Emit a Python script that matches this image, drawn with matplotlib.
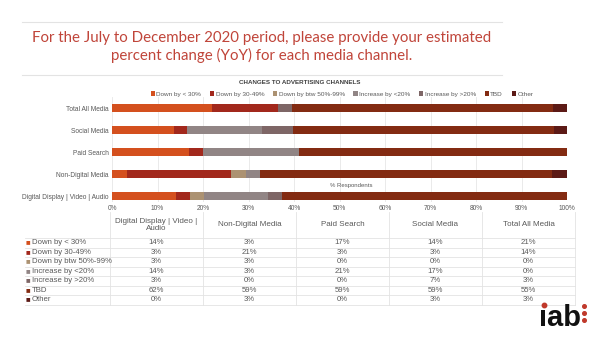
import matplotlib.pyplot as plt
import numpy as np
from matplotlib.lines import Line2D

channels = ['Digital Display | Video | Audio', 'Non-Digital Media', 'Paid Search',
            'Social Media', 'Total All Media']
headers = ['Digital Display | Video |\nAudio', 'Non-Digital Media', 'Paid Search',
           'Social Media', 'Total All Media']
categories = ['Down by < 30%', 'Down by 30-49%', 'Down by btw 50%-99%',
              'Increase by <20%', 'Increase by >20%', 'TBD', 'Other']

down_lt30 = [14, 3, 17, 14, 21]
down_30_49 = [3, 21, 3, 3, 14]
down_50_99 = [3, 3, 0, 0, 0]
inc_lt20 = [14, 3, 21, 17, 0]
inc_gt20 = [3, 0, 0, 7, 3]
tbd = [62, 59, 59, 59, 55]
other = [0, 3, 0, 3, 3]

series = [down_lt30, down_30_49, down_50_99, inc_lt20, inc_gt20, tbd, other]
colors = ['#D4501E', '#A2281C', '#AC9272', '#918585', '#7E6666', '#832B12', '#5C1A16']

W, H = 600, 338
fig = plt.figure(figsize=(6, 3.38), dpi=100)
plt.rcParams['font.family'] = ['Liberation Sans', 'DejaVu Sans']


def fx(px):
    return px / W


def fy(py):
    return 1 - py / H


# title block
for yy in (22, 75):
    fig.add_artist(Line2D([fx(22), fx(502)], [fy(yy), fy(yy)], color='#E3E3E3', lw=0.8))
fig.text(fx(262), fy(47), 'For the July to December 2020 period, please provide your estimated\n'
         'percent change (YoY) for each media channel.',
         ha='center', va='center', color='#C0453A', fontsize=10.8, family='Lato',
         linespacing=1.3)
fig.text(fx(300), fy(83), 'CHANGES TO ADVERTISING CHANNELS', ha='center', va='center',
         fontsize=4.5, fontweight='bold', color='#404040')

# stacked bar chart (100% stacked)
ax = fig.add_axes([fx(112), fy(202), fx(567) - fx(112), (202 - 97) / H])
data = np.array(series, dtype=float)
pct = data / data.sum(axis=0) * 100
y = np.arange(len(channels))
left = np.zeros(len(channels))
for i, cat in enumerate(categories):
    ax.barh(y, pct[i], left=left, height=0.38, color=colors[i], label=cat, zorder=2)
    left += pct[i]

ax.set_xlim(0, 100)
ax.set_ylim(-0.27, 4.5)
ax.set_yticks(y)
ax.set_yticklabels(channels, fontsize=4.8, color='#595959')
ax.set_xticks(np.arange(0, 101, 10))
ax.set_xticklabels([f'{v}%' for v in range(0, 101, 10)], fontsize=4.8, color='#595959')
ax.tick_params(length=0, pad=2.5)
ax.grid(axis='x', color='#E6E6E6', lw=0.6, zorder=0)
for s in ax.spines.values():
    s.set_visible(False)
fig.text(fx(330), fy(186), '% Respondents', fontsize=4.3, color='#595959',
         ha='left', va='center')

fig.legend(*ax.get_legend_handles_labels(), loc='center', ncol=7,
           bbox_to_anchor=(fx(342), fy(94)), frameon=False, fontsize=4.6,
           handlelength=0.7, handleheight=0.7, handletextpad=0.2, columnspacing=1.35,
           labelcolor='#595959')

# data table
col_edges = [110, 203, 296, 389, 482, 575]
row_tops = [212, 238, 247.5, 257, 266.5, 276, 285.5, 295, 304.5]
for yy in row_tops[1:]:
    fig.add_artist(Line2D([fx(25), fx(575)], [fy(yy), fy(yy)], color='#E3E3E3', lw=0.6))
for xx in col_edges:
    fig.add_artist(Line2D([fx(xx), fx(xx)], [fy(212), fy(304.5)], color='#E3E3E3', lw=0.6))

for j, h in enumerate(headers):
    cx = (col_edges[j] + col_edges[j + 1]) / 2
    fig.text(fx(cx), fy(225), h, ha='center', va='center', fontsize=5.8,
             color='#595959', linespacing=0.95)

for i, cat in enumerate(categories):
    cy = (row_tops[i + 1] + row_tops[i + 2]) / 2
    fig.text(fx(26), fy(cy), '■', ha='left', va='center', fontsize=5.5, color=colors[i])
    fig.text(fx(32), fy(cy), cat, ha='left', va='center', fontsize=5.6, color='#595959')
    for j in range(len(channels)):
        cx = (col_edges[j] + col_edges[j + 1]) / 2
        fig.text(fx(cx), fy(cy), f'{series[i][j]}%', ha='center', va='center',
                 fontsize=5.6, color='#595959')

# iab logo (dotless i with a red dot)
fig.text(fx(560), fy(318), '\u0131ab', ha='center', va='center', fontsize=21,
         fontweight='bold', color='#111111')
for yy in (306, 313, 320):
    fig.add_artist(Line2D([fx(584)], [fy(yy)], marker='o', markersize=2.6,
                          color='#C0392B', lw=0))
fig.add_artist(Line2D([fx(544)], [fy(305)], marker='o', markersize=3.2,
                      color='#C0392B', lw=0))

fig.savefig('out.png', dpi=100, facecolor='white')
